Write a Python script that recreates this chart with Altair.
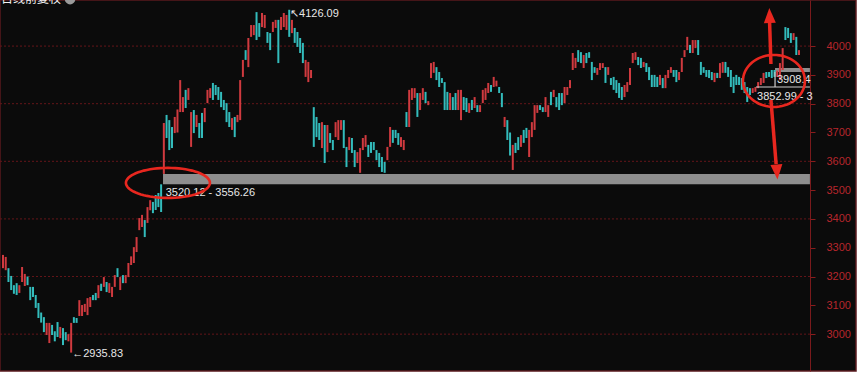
import math
import altair as alt
import pandas as pd

# ---------------- candle data (daily open / close) ----------------
opens_a = [3229, 3222, 3229, 3202, 3170, 3177, 3143, 3181, 3167, 3200,
           3164, 3164, 3136, 3108, 3075, 3059, 2997, 2969, 3032, 3010,
           3042, 2986, 3021, 3007, 2975, 2935.83, 3059, 3056, 3063, 3063,
           3077, 3066, 3094, 3136, 3143, 3125, 3175, 3164, 3181, 3143,
           3129, 3164, 3229, 3153, 3205, 3177, 3198, 3240, 3247, 3285,
           3361, 3372, 3396, 3386, 3430, 3459, 3483, 3490, 3520.12]
closes_a = [3275, 3268, 3181, 3153, 3140, 3136, 3170, 3233, 3209, 3170,
            3118, 3129, 3091, 3056, 3040, 3007, 3039, 3039, 2997, 2975,
            2990, 3025, 2962, 2979, 3000, 3039, 3039, 3039, 3118, 3101,
            3105, 3125, 3129, 3118, 3118, 3170, 3150, 3198, 3146, 3177,
            3164, 3205, 3198, 3198, 3177, 3205, 3247, 3270, 3302, 3337,
            3403, 3414, 3337, 3441, 3465, 3420, 3431, 3441, 3424]

opens_b = [3556.26, 3761, 3743, 3719, 3698, 3700, 3771, 3771, 3848, 3813,
           3650, 3778, 3719, 3733, 3768, 3736, 3802, 3820, 3872, 3865,
           3858, 3841, 3813, 3802, 3771, 3709, 3754, 3736, 3743, 3893,
           3986, 3927, 4032, 4038, 4118, 4080, 4066, 4063, 4049, 4045,
           4049, 4063, 4091, 4056, 4066, 4056, 4126.09, 4045, 4063, 4049,
           4028, 4011, 3893, 3875, 3889, 3788, 3754, 3733, 3646, 3726,
           3632, 3698, 3674, 3684, 3674, 3709, 3743]
closes_b = [3733, 3681, 3639, 3646, 3754, 3780, 3882, 3823, 3785, 3854,
            3771, 3698, 3761, 3681, 3681, 3785, 3848, 3854, 3813, 3830,
            3813, 3788, 3778, 3736, 3719, 3750, 3684, 3761, 3882, 3952,
            3952, 4028, 4073, 4073, 4021, 4032, 4115, 4108, 4011, 3986,
            4084, 4091, 3941, 4101, 4115, 4108, 4032, 4091, 4011, 3997,
            3976, 3941, 3952, 3945, 3917, 3650, 3684, 3674, 3736, 3594,
            3726, 3664, 3639, 3736, 3743, 3743, 3646]

opens_c = [3650, 3639, 3681, 3639, 3594, 3560, 3639, 3650, 3657, 3667,
           3667, 3639, 3629, 3615, 3598, 3604, 3650, 3709, 3709, 3698,
           3650, 3639, 3771, 3719, 3813, 3820, 3837, 3778, 3813, 3841,
           3795, 3889, 3907, 3927, 3910, 3889, 3875, 3841, 3778, 3823,
           3837, 3778, 3743, 3823, 3820, 3768, 3813, 3785, 3795, 3771,
           3802, 3813, 3837, 3865, 3858, 3860, 3858, 3837, 3719, 3743,
           3700, 3570, 3664, 3684, 3650, 3709, 3716, 3615, 3684, 3709,
           3768, 3795, 3788, 3771, 3754, 3841, 3823, 3823, 3837, 3837,
           3802]
closes_c = [3580, 3684, 3629, 3580, 3632, 3646, 3681, 3691, 3615, 3629,
            3639, 3604, 3580, 3563, 3560, 3650, 3719, 3664, 3681, 3657,
            3684, 3674, 3719, 3848, 3854, 3854, 3754, 3837, 3854, 3802,
            3809, 3941, 3945, 3882, 3858, 3872, 3778, 3778, 3837, 3778,
            3778, 3848, 3848, 3778, 3771, 3802, 3778, 3823, 3771, 3795,
            3848, 3854, 3872, 3841, 3893, 3880, 3837, 3788, 3754, 3674,
            3620, 3657, 3629, 3639, 3691, 3664, 3681, 3709, 3736, 3795,
            3795, 3778, 3771, 3823, 3795, 3795, 3848, 3788, 3778, 3795,
            3858]

opens_d = [3830, 3854, 3917, 3924, 3986, 3979, 3924, 3976, 3979, 3945,
           3927, 3900, 3917, 3924, 3927, 3900, 3889, 3893, 3882, 3872,
           3858, 3823, 3841, 3865, 3941, 3952, 3962, 3959, 3927, 3941,
           3927, 3900, 3900, 3893, 3865, 3889, 3854, 3889, 3907, 3917,
           3917, 3882, 3910, 3962, 3986, 4004, 3976, 3993, 4021, 3945,
           3927, 3917, 3917, 3910, 3875, 3907, 3889, 3907, 3945, 3927,
           3917, 3893, 3900, 3893, 3889, 3875, 3858, 3854, 3837, 3841,
           3854, 3865, 3872, 3910, 3910, 3917, 3917, 3893, 3882, 3917,
           4066, 4063, 4045, 4021, 4032, 3969]
closes_d = [3858, 3882, 3976, 3959, 3945, 3941, 3969, 3941, 3959, 3882,
            3907, 3924, 3941, 3941, 3872, 3927, 3865, 3848, 3837, 3820,
            3813, 3865, 3875, 3924, 3976, 3979, 3934, 3924, 3945, 3910,
            3882, 3858, 3858, 3858, 3900, 3854, 3900, 3917, 3927, 3893,
            3875, 3910, 3959, 3986, 4032, 3976, 4021, 4021, 3969, 3900,
            3907, 3893, 3889, 3882, 3907, 3889, 3941, 3945, 3907, 3893,
            3858, 3837, 3865, 3865, 3848, 3837, 3806, 3830, 3854, 3858,
            3875, 3889, 3907, 3889, 3893, 3889, 3893, 3915, 3941, 3993,
            4021, 4028, 4011, 4045, 3969, 3986]

axis_values = [3000, 3100, 3200, 3300, 3400, 3500, 3600, 3700, 3800, 3900, 4000]
grid_values = [3000, 3200, 3400, 3600, 3800, 4000]

# gap annotations
gap1_lo, gap1_hi = 3520.12, 3556.26
gap1_label = "3520.12 - 3556.26"
gap2_label = "3908.4"
gap3_label = "3852.99 - 3"
high_label = "\u2196" + "4126.09"
low_label = "\u2190" + "2935.83"
title_text = "日线前复权"

opens = opens_a + opens_b + opens_c + opens_d
closes = closes_a + closes_b + closes_c + closes_d
n = len(opens)

RED = "#d03a3f"
TEAL = "#33bcbc"
MARK_RED = "#e8271f"
TXT = "#e8e8e8"

X_MIN, X_MAX = -1.1, 312.9
AXIS_AT = 296.0
XS = alt.Scale(domain=[X_MIN, X_MAX], nice=False, zero=False)
YS = alt.Scale(domain=[2872, 4160], nice=False, zero=False)

YAXIS = alt.Axis(orient="right", offset=-46, values=axis_values, grid=False,
                 title=None, format="d", labelColor="#b8262b", labelFont="Liberation Sans",
                 labelFontSize=11, labelPadding=11, tickColor="#8a1c1c",
                 tickSize=5, domainColor="#7a1a1c", domainWidth=1,
                 labelFlush=False)


def xq(field):
    return alt.X(field, type="quantitative", scale=XS, axis=None)


def yq(field):
    return alt.Y(field, type="quantitative", scale=YS, axis=YAXIS)


df = pd.DataFrame({"i": list(range(n)), "o": opens, "c": closes})
df["dir"] = ["up" if c >= o else "down" for o, c in zip(opens, closes)]

candles = alt.Chart(df).mark_rule(strokeWidth=2).encode(
    x=xq("i"), y=yq("o"), y2="c:Q",
    color=alt.Color("dir:N", scale=alt.Scale(domain=["up", "down"], range=[RED, TEAL]), legend=None),
)

grid_df = pd.DataFrame({"v": grid_values, "x0": X_MIN, "x1": AXIS_AT})
grid = alt.Chart(grid_df).mark_rule(color="#641519", strokeDash=[2, 2], strokeWidth=1).encode(
    x=xq("x0"), x2="x1:Q", y=yq("v"),
)

bands_df = pd.DataFrame({"x0": [58.7, 283.2], "x1": [AXIS_AT, AXIS_AT],
                         "lo": [gap1_lo, 3910], "hi": [gap1_hi, 3924]})
bands = alt.Chart(bands_df).mark_rect(color="#8e8e8e").encode(
    x=xq("x0"), x2="x1:Q", y=yq("lo"), y2="hi:Q",
)

lines_df = pd.DataFrame({"x0": [276.2, 283.2], "x1": [AXIS_AT, 283.2],
                         "y0": [3858, 3858], "y1": [3858, 3910]})
thin_lines = alt.Chart(lines_df).mark_rule(color="#d0d0d0", strokeWidth=1.2).encode(
    x=xq("x0"), x2="x1:Q", y=yq("y0"), y2="y1:Q",
)

text_df = pd.DataFrame({
    "x": [59.7, 105.3, 25.4, 283.9, 276.6],
    "y": [3491, 4111, 2931, 3882, 3823],
    "t": [gap1_label, high_label, low_label, gap2_label, gap3_label],
})
texts = alt.Chart(text_df).mark_text(align="left", baseline="middle", font="Liberation Sans",
                                      fontSize=11, color=TXT).encode(
    x=xq("x"), y=yq("y"), text="t:N",
)

title_df = pd.DataFrame({"x": [X_MIN], "y": [4139], "t": [title_text]})
title = alt.Chart(title_df).mark_text(align="left", baseline="bottom", font="Noto Sans CJK SC",
                                       fontSize=12, color="#f2f2f2", dx=1).encode(
    x=xq("x"), y=yq("y"), text="t:N",
)
icon_df = pd.DataFrame({"x": [24.6], "y": [4163]})
icon = alt.Chart(icon_df).mark_point(shape="circle", filled=True, size=110, color="#9a9a9a", opacity=1).encode(
    x=xq("x"), y=yq("y"),
)


def ellipse_path(ry):
    pts = []
    for k in range(0, 73):
        a = 2 * math.pi * k / 72
        pts.append(f"{math.cos(a):.4f},{ry * math.sin(a):.4f}")
    return "M" + " L".join(pts) + " Z"


e1_df = pd.DataFrame({"x": [60.5], "y": [3525]})
ell1 = alt.Chart(e1_df).mark_point(shape=ellipse_path(30 / 84), size=84 * 84, filled=False,
                                    strokeWidth=2.6, color=MARK_RED, opacity=1).encode(
    x=xq("x"), y=yq("y"))
e2_df = pd.DataFrame({"x": [282.8], "y": [3879]})
ell2 = alt.Chart(e2_df).mark_point(shape=ellipse_path(52 / 62), size=62 * 62, filled=False,
                                    strokeWidth=2.6, color=MARK_RED, opacity=1).encode(
    x=xq("x"), y=yq("y"))

shaft_df = pd.DataFrame({"x0": [281.7, 281.7], "x1": [281.2, 283.6],
                         "y0": [3938, 3813], "y1": [4084, 3590]})
shafts = alt.Chart(shaft_df).mark_rule(color=MARK_RED, strokeWidth=3.5).encode(
    x=xq("x0"), x2="x1:Q", y=yq("y0"), y2="y1:Q",
)
up_df = pd.DataFrame({"x": [281.2], "y": [4106]})
up_head = alt.Chart(up_df).mark_point(shape="M0,-1 L0.8,1 L-0.8,1 Z", size=225, filled=True,
                                       color=MARK_RED, opacity=1, angle=358).encode(
    x=xq("x"), y=yq("y"))
dn_df = pd.DataFrame({"x": [283.9], "y": [3563]})
dn_head = alt.Chart(dn_df).mark_point(shape="M0,1 L0.8,-1 L-0.8,-1 Z", size=225, filled=True,
                                       color=MARK_RED, opacity=1, angle=356).encode(
    x=xq("x"), y=yq("y"))

chart = alt.layer(grid, bands, candles, thin_lines, texts, title, icon,
                  ell1, ell2, shafts, up_head, dn_head).properties(
    width=856, height=371,
    background="#ffffff",
    padding={"left": 0, "top": 0, "right": 12, "bottom": 14},
    autosize=alt.AutoSizeParams(type="none"),
).configure_view(fill="#0b0b0b", stroke="#5a1a1e", strokeWidth=1.5)

chart.save("out.html", embed_options={"renderer": "svg", "actions": False})
